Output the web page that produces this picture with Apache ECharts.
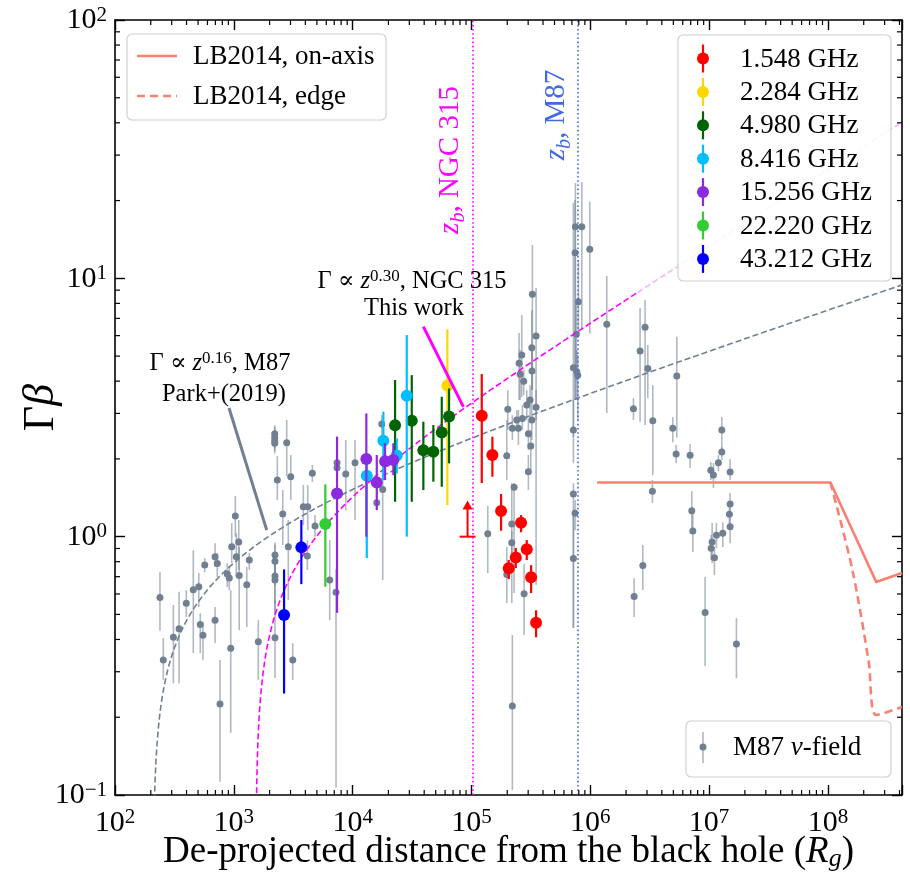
<!DOCTYPE html>
<html>
<head>
<meta charset="utf-8">
<script src="https://cdn.jsdelivr.net/npm/echarts@6/dist/echarts.min.js"></script>
<style>
html, body { margin: 0; padding: 0; background: #fff; }
#chart { width: 910px; height: 872px; }
</style>
</head>
<body>
<div id="chart"></div>
<script>
const FONT = '"Liberation Serif", "DejaVu Serif", serif';

// Axis extents (de-projected distance in R_g, Γβ)
const xRange = [1e2, 4.2e8];
const yRange = [0.1, 100];

// M87 velocity field: [distance, Γβ, lower, upper]
const m87Field = [
  [239, 0.582, 0.432, 0.731], [255, 0.333, 0.279, 0.405], [310, 0.408, 0.271, 0.544],
  [346, 0.440, 0.271, 0.612], [398, 0.553, 0.489, 0.621], [456, 0.623, 0.354, 0.887],
  [507, 0.640, 0.534, 0.723], [522, 0.457, 0.354, 0.506], [550, 0.415, 0.333, 0.465],
  [569, 0.776, 0.729, 0.826], [695, 0.475, 0.387, 0.534], [695, 0.836, 0.763, 0.944],
  [726, 0.788, 0.698, 0.864], [765, 0.225, 0.1125, 0.333], [881, 0.717, 0.638, 0.790],
  [916, 0.692, 0.621, 0.769], [942, 0.370, 0.174, 0.621], [960, 0.914, 0.790, 1.129],
  [1030, 1.202, 1.0, 1.436], [1050, 0.836, 0.698, 1.03], [1100, 0.953, 0.743, 1.160],
  [1110, 0.708, 0.435, 0.912], [1285, 0.651, 0.447, 0.763], [1350, 0.812, 0.743, 0.864],
  [1607, 0.392, 0.279, 0.475], [2210, 2.50, 2.30, 2.70], [2210, 2.42, 2.20, 2.65],
  [2210, 2.35, 2.15, 2.55], [2210, 2.30, 2.10, 2.50], [2220, 0.849, 0.70, 0.95],
  [2220, 0.804, 0.65, 0.93], [2220, 0.704, 0.55, 0.85], [2220, 0.679, 0.50, 0.82],
  [2220, 0.406, 0.284, 0.568], [2323, 1.656, 1.386, 2.05], [2582, 1.223, 0.928, 1.515],
  [2787, 2.31, 1.717, 2.83], [3013, 1.706, 1.386, 2.07], [2875, 0.914, 0.568, 1.160],
  [3133, 0.333, 0.279, 0.387], [3846, 1.306, 1.109, 1.584], [4188, 1.306, 1.06, 1.584],
  [4157, 0.841, 0.743, 0.97], [4580, 1.758, 1.627, 1.893], [4826, 1.099, 1.0, 1.212],
  [6412, 0.679, 0.475, 0.970], [7244, 0.609, 0.107, 0.75], [7390, 1.932, 1.75, 2.1],
  [7390, 1.848, 1.65, 2.0], [8750, 1.747, 1.267, 2.365], [10470, 1.932, 1.16, 2.365],
  [17580, 2.729, 2.365, 2.955], [17910, 1.524, 0.679, 1.98], [15960, 1.353, 1.267, 1.515],
  [137100, 1.026, 0.723, 1.314], [198200, 2.056, 1.656, 2.83], [202200, 3.11, 2.587, 3.695],
  [220800, 2.626, 2.365, 2.955], [248300, 2.626, 2.262, 3.09], [240500, 2.828, 2.587, 3.09],
  [251600, 4.69, 3.38, 6.14], [265000, 5.05, 3.47, 7.21], [256600, 4.25, 3.38, 5.28],
  [275400, 4.00, 3.53, 4.42], [268200, 2.87, 2.587, 3.23], [292000, 3.23, 2.83, 3.695],
  [301300, 2.50, 2.164, 2.83], [311300, 3.38, 2.83, 3.86], [315600, 2.243, 1.81, 2.587],
  [321900, 5.39, 3.38, 7.53], [323000, 4.38, 3.695, 5.28], [325600, 8.67, 3.695, 13.46],
  [321900, 2.828, 2.365, 3.38], [349800, 5.98, 2.83, 9.17], [349800, 3.17, 0.650, 3.695],
  [218400, 1.119, 0.553, 1.612], [218400, 0.947, 0.85, 1.05], [228400, 1.552, 0.605, 1.612],
  [198200, 0.714, 0.553, 0.912], [220800, 0.221, 0.1045, 0.416], [277300, 0.601, 0.416, 0.783],
  [301300, 1.784, 1.515, 2.07], [720700, 4.51, 2.43, 19.6], [720700, 2.587, 1.926, 3.38],
  [745000, 12.57, 3.38, 20.1], [749200, 15.84, 3.38, 23.4], [848400, 15.84, 6.31, 23.6],
  [763600, 6.07, 4.04, 8.24], [794000, 8.12, 6.31, 11.78], [769400, 4.35, 3.38, 5.28],
  [784600, 4.22, 2.83, 5.05], [990000, 12.95, 6.12, 19.8], [720700, 1.462, 0.443, 1.612],
  [745000, 1.231, 1.06, 1.386], [720700, 0.824, 0.443, 1.267], [1377000, 6.64, 3.01, 10.2],
  [2307000, 3.13, 2.83, 3.44], [2624000, 5.23, 2.786, 7.67], [2891000, 6.46, 2.704, 8.24],
  [3048000, 4.48, 3.44, 5.52], [3358000, 2.81, 1.732, 3.86], [3333000, 1.50, 1.349, 1.656],
  [4945000, 2.626, 2.32, 2.904], [5276000, 2.088, 1.926, 2.262], [5346000, 4.19, 2.42, 5.94],
  [6918000, 2.064, 1.844, 2.283], [7145000, 1.26, 1.06, 1.50], [7290000, 1.051, 0.872, 1.234],
  [10330000, 1.806, 1.656, 1.944], [10870000, 1.732, 1.542, 1.926], [11970000, 1.932, 1.794, 2.07],
  [12790000, 2.587, 2.126, 2.904], [12790000, 2.126, 1.98, 2.22], [15020000, 1.779, 1.656, 1.997],
  [15020000, 1.337, 1.234, 1.475], [14820000, 1.22, 1.109, 1.325], [15020000, 1.092, 0.944, 1.19],
  [13030000, 1.03, 0.912, 1.137], [11520000, 1.012, 0.904, 1.129], [10600000, 0.953, 0.790, 1.129],
  [10400000, 0.901, 0.812, 1.014], [11080000, 0.829, 0.710, 0.912], [9253000, 0.509, 0.316, 0.70],
  [16980000, 0.384, 0.283, 0.484], [2767000, 0.774, 0.621, 0.928], [2337000, 0.587, 0.489, 0.691]
];

// NGC 315 jet speeds per observing band: [distance, Γβ, lower, upper]
const ngc1548 = [
  [122100, 2.94, 1.612, 4.26], [150000, 2.07, 1.706, 2.436], [177500, 1.256, 1.054, 1.462],
  [261600, 1.132, 1.04, 1.212], [292000, 0.893, 0.812, 0.97], [236000, 0.831, 0.756, 0.904],
  [206000, 0.754, 0.685, 0.812], [317600, 0.696, 0.605, 0.776], [349800, 0.464, 0.408, 0.519]
];
const ngc1548Limit = [[92700, 1.0, 1.38]]; // [distance, lower limit, arrow tip]
const ngc2284 = [[62700, 3.84, 1.325, 6.35]];
const ngc4980 = [
  [22750, 2.70, 1.365, 4.04], [31440, 2.81, 1.365, 4.22], [39360, 2.16, 1.515, 2.786],
  [47780, 2.13, 1.632, 2.704], [56230, 2.53, 1.56, 3.48], [64770, 2.92, 1.922, 3.75]
];
const ngc8416 = [
  [13150, 1.72, 0.826, 2.07], [18130, 2.35, 1.656, 3.045], [23500, 2.06, 1.758, 2.40],
  [28530, 3.51, 1.0, 6.03]
];
const ngc15256 = [
  [7390, 1.47, 0.507, 2.44], [13040, 2.00, 1.0, 3.00], [15960, 1.62, 1.267, 2.07],
  [18740, 1.957, 1.656, 2.30], [22000, 1.98, 1.73, 2.30]
];
const ngc22220 = [[5890, 1.12, 0.640, 1.594]];
const ngc43212 = [[2647, 0.497, 0.247, 0.747], [3700, 0.909, 0.655, 1.16]];

const bandLabels = ['1.548 GHz', '2.284 GHz', '4.980 GHz', '8.416 GHz', '15.256 GHz', '22.220 GHz', '43.212 GHz'];
const bandColors = ['#ff0000', '#ffd700', '#006400', '#00bfff', '#8a2be2', '#32cd32', '#0000ff'];
const bandData = [ngc1548, ngc2284, ngc4980, ngc8416, ngc15256, ngc22220, ngc43212];

// Jet break locations
const zbNGC315 = 1.02e5;
const zbM87 = 7.85e5;

// Power-law acceleration fits, Γ = norm · z^index
const fitM87 = { norm: 0.437, index: 0.155 };
const fitNGC315 = { norm: 0.115, index: 0.295, solidUntil: 2.5e6 };

// LB2014 model tracks: [distance, Γβ]
const lbOnAxis = [[1.14e6, 1.62], [1.05e8, 1.62], [2.55e8, 0.667], [4.2e8, 0.723]];
const lbEdge = [[1.05e8, 1.62], [1.6e8, 0.75], [2.2e8, 0.33], [2.55e8, 0.204], [4.2e8, 0.219]];

// Annotation arrows: [from, to] in data space
const arrowM87 = [[911, 3.15], [1892, 1.06]];
const arrowNGC315 = [[39360, 6.50], [85500, 3.18]];

const slate = '#708090';
const slateBar = 'rgba(112,128,144,0.55)';
const magenta = '#ff00ff';
const royal = '#4169e1';
const salmon = '#fa8072';

function powerLawCurve(fit, zLo, zHi, n) {
  // Γβ = sqrt(Γ² − 1), sampled in log z with finer steps near the Γ = 1 end
  const pts = [];
  const a = Math.log10(zLo), b = Math.log10(zHi);
  for (let i = 1; i <= n; i++) {
    const t = i / n;
    const z = Math.pow(10, a + (b - a) * t * t);
    const g = fit.norm * Math.pow(z, fit.index);
    if (g > 1) pts.push([z, Math.sqrt(g * g - 1)]);
  }
  return pts;
}
function gammaOne(fit) { return Math.pow(1 / fit.norm, 1 / fit.index); }

const curveM87 = powerLawCurve(fitM87, gammaOne(fitM87), xRange[1], 400);
const curveNGC = powerLawCurve(fitNGC315, gammaOne(fitNGC315), fitNGC315.solidUntil, 400);
const curveNGCext = powerLawCurve(fitNGC315, fitNGC315.solidUntil, xRange[1], 60);
curveNGCext.unshift(curveNGC[curveNGC.length - 1]);

// Minor tick values (2..9 × 10^k)
const xMinor = [], yMinor = [];
for (let e = 2; e <= 8; e++) for (let m = 2; m <= 9; m++) { const v = m * Math.pow(10, e); if (v < xRange[1]) xMinor.push([v, 1]); }
for (let e = -1; e <= 1; e++) for (let m = 2; m <= 9; m++) yMinor.push([10, m * Math.pow(10, e)]);

function errorBars(name, rows, color, barColor, barWidth, r, z) {
  return {
    name, type: 'custom', coordinateSystem: 'cartesian2d', data: rows,
    encode: { x: 0, y: 1 }, clip: true, silent: true, z,
    renderItem(params, api) {
      const x = api.value(0);
      const c = api.coord([x, api.value(1)]);
      const lo = api.coord([x, api.value(2)]);
      const hi = api.coord([x, api.value(3)]);
      return { type: 'group', children: [
        { type: 'line', shape: { x1: lo[0], y1: lo[1], x2: hi[0], y2: hi[1] }, style: { stroke: barColor, lineWidth: barWidth } },
        { type: 'circle', shape: { cx: c[0], cy: c[1], r }, style: { fill: color } }
      ] };
    }
  };
}

// 10^k labels: base digits sit at the line bottom, the exponent at the line top
function tickLabel(v) {
  const e = Math.log10(v), k = Math.round(e);
  if (Math.abs(e - k) > 1e-6) return '';
  return '{b|10}{s|' + (k < 0 ? '\u2212' + (-k) : k) + '}';
}
const tickRich = {
  b: { fontFamily: FONT, fontSize: 30, lineHeight: 31, verticalAlign: 'bottom', color: '#000' },
  s: { fontFamily: FONT, fontSize: 21, lineHeight: 31, verticalAlign: 'top', color: '#000' }
};

const axisBase = {
  type: 'log', logBase: 10,
  axisLine: { show: true, onZero: false, lineStyle: { color: '#000', width: 1.6 } },
  axisTick: { show: true, inside: true, length: 10, lineStyle: { color: '#000', width: 1.4 } },
  splitLine: { show: false }, minorTick: { show: false }, minorSplitLine: { show: false }
};

const series = [];

series.push(errorBars('M87 v-field', m87Field, slate, slateBar, 1.6, 3.5, 2));

series.push({
  name: 'fitM87', type: 'line', data: curveM87, showSymbol: false, symbol: 'none', silent: true, z: 3,
  lineStyle: { color: slate, width: 1.6, type: [6, 3] }, animation: false,
  markLine: {
    silent: true, symbol: ['none', 'arrow'], symbolSize: [0, 16], label: { show: false },
    lineStyle: { color: slate, width: 3, type: 'solid' },
    data: [[{ coord: arrowM87[0] }, { coord: arrowM87[1] }]]
  }
});
series.push({
  name: 'fitNGC315', type: 'line', data: curveNGC, showSymbol: false, symbol: 'none', silent: true, z: 3,
  lineStyle: { color: magenta, width: 1.6, type: [6, 3] }, animation: false,
  markLine: {
    silent: true, symbol: ['none', 'arrow'], symbolSize: [0, 16], label: { show: false },
    lineStyle: { color: magenta, width: 3, type: 'solid' },
    data: [[{ coord: arrowNGC315[0] }, { coord: arrowNGC315[1] }]]
  }
});
series.push({
  name: 'fitNGC315ext', type: 'line', data: curveNGCext, showSymbol: false, symbol: 'none', silent: true, z: 3,
  lineStyle: { color: 'rgba(255,0,255,0.3)', width: 1.6, type: [6, 3] }, animation: false
});
series.push({
  name: 'breaks', type: 'line', data: [], silent: true, z: 3,
  markLine: {
    silent: true, symbol: ['none', 'none'], label: { show: false },
    data: [
      { xAxis: zbNGC315, lineStyle: { color: magenta, width: 1.6, type: [1.6, 2.6] } },
      { xAxis: zbM87, lineStyle: { color: royal, width: 1.6, type: [1.6, 2.6] } }
    ]
  }
});
series.push({
  name: 'LB2014, on-axis', type: 'line', data: lbOnAxis, showSymbol: false, symbol: 'none', silent: true, z: 3,
  lineStyle: { color: salmon, width: 2.6 }, animation: false
});
series.push({
  name: 'LB2014, edge', type: 'line', data: lbEdge, showSymbol: false, symbol: 'none', silent: true, z: 3,
  smooth: 0.3, lineStyle: { color: salmon, width: 2.6, type: [8, 5] }, animation: false
});

bandData.forEach((rows, i) => {
  series.push(errorBars(bandLabels[i], rows, bandColors[i], bandColors[i], 2.2, 6, 4));
});

// lower limit at 1.548 GHz
series.push({
  name: '1.548 GHz limit', type: 'custom', coordinateSystem: 'cartesian2d', data: ngc1548Limit,
  encode: { x: 0, y: 1 }, clip: true, silent: true, z: 4,
  renderItem(params, api) {
    const x = api.value(0);
    const b = api.coord([x, api.value(1)]);
    const t = api.coord([x, api.value(2)]);
    return { type: 'group', children: [
      { type: 'line', shape: { x1: b[0] - 8, y1: b[1], x2: b[0] + 8, y2: b[1] }, style: { stroke: '#ff0000', lineWidth: 2 } },
      { type: 'line', shape: { x1: b[0], y1: b[1], x2: t[0], y2: t[1] + 6 }, style: { stroke: '#ff0000', lineWidth: 2 } },
      { type: 'polygon', shape: { points: [[t[0], t[1]], [t[0] - 5, t[1] + 9], [t[0] + 5, t[1] + 9]] }, style: { fill: '#ff0000' } }
    ] };
  }
});

// minor ticks on all four sides
series.push({
  name: 'xMinor', type: 'custom', coordinateSystem: 'cartesian2d', data: xMinor, encode: { x: 0, y: 1 },
  clip: false, silent: true, z: 6,
  renderItem(params, api) {
    const v = api.value(0);
    const b = api.coord([v, yRange[0]]), t = api.coord([v, yRange[1]]);
    return { type: 'group', children: [
      { type: 'line', shape: { x1: b[0], y1: b[1], x2: b[0], y2: b[1] - 5 }, style: { stroke: '#000', lineWidth: 1.2 } },
      { type: 'line', shape: { x1: t[0], y1: t[1], x2: t[0], y2: t[1] + 5 }, style: { stroke: '#000', lineWidth: 1.2 } }
    ] };
  }
});
series.push({
  name: 'yMinor', type: 'custom', coordinateSystem: 'cartesian2d', data: yMinor, encode: { x: 0, y: 1 },
  clip: false, silent: true, z: 6,
  renderItem(params, api) {
    const v = api.value(1);
    const l = api.coord([xRange[0], v]), r = api.coord([xRange[1], v]);
    return { type: 'group', children: [
      { type: 'line', shape: { x1: l[0], y1: l[1], x2: l[0] + 5, y2: l[1] }, style: { stroke: '#000', lineWidth: 1.2 } },
      { type: 'line', shape: { x1: r[0], y1: r[1], x2: r[0] - 5, y2: r[1] }, style: { stroke: '#000', lineWidth: 1.2 } }
    ] };
  }
});

// option text styles use `color`; graphic text uses `fill`
const txt = (size, extra) => Object.assign({ fontFamily: FONT, fontSize: size, color: '#000' }, extra || {});
const gtxt = (size, c, extra) => Object.assign({ fontFamily: FONT, fontSize: size, fill: c }, extra || {});

const option = {
  animation: false,
  backgroundColor: '#fff',
  grid: { left: 115, right: 8, top: 20, bottom: 77, containLabel: false, outerBoundsMode: 'none' },
  xAxis: [
    Object.assign({}, axisBase, {
      min: xRange[0], max: xRange[1], position: 'bottom',
      axisLabel: { formatter: tickLabel, rich: tickRich, margin: 12, interval: 0, hideOverlap: false, showMinLabel: true, showMaxLabel: true },
      name: '{t|De-projected distance from the black hole (}{i|R}{g|g}{t|)}',
      nameLocation: 'middle', nameGap: 39, nameMoveOverlap: false,
      nameTextStyle: { rich: {
        t: txt(37, { lineHeight: 38, verticalAlign: 'top' }),
        i: txt(37, { lineHeight: 38, verticalAlign: 'top', fontStyle: 'italic' }),
        g: txt(26, { lineHeight: 38, verticalAlign: 'bottom', fontStyle: 'italic' })
      } }
    }),
    Object.assign({}, axisBase, { min: xRange[0], max: xRange[1], position: 'top', axisLabel: { show: false } })
  ],
  yAxis: [
    Object.assign({}, axisBase, {
      min: yRange[0], max: yRange[1], position: 'left',
      axisLabel: { formatter: tickLabel, rich: tickRich, margin: 8, interval: 0, hideOverlap: false, showMinLabel: true, showMaxLabel: true },
      name: '{g|Γ}{b|β}', nameLocation: 'middle', nameRotate: 90, nameGap: 50, nameMoveOverlap: false,
      nameTextStyle: { rich: {
        g: txt(44, { lineHeight: 48 }),
        b: txt(44, { lineHeight: 48, fontStyle: 'italic' })
      } }
    }),
    Object.assign({}, axisBase, { min: yRange[0], max: yRange[1], position: 'right', axisLabel: { show: false } })
  ],
  series
};

// Legends and annotation text
const legendFont = 27;
const legendRich = {
  n: gtxt(legendFont, '#000'),
  i: gtxt(legendFont, '#000', { fontStyle: 'italic' })
};
const textStyle = (extra) => Object.assign({ align: 'left', verticalAlign: 'middle', textAlign: 'left', textVerticalAlign: 'middle' }, extra);
const graphics = [];
// LB2014 legend
graphics.push({ type: 'rect', shape: { x: 127, y: 34, width: 259, height: 86, r: 5 }, style: { fill: 'rgba(255,255,255,0.85)', stroke: '#d0d0d0', lineWidth: 1.2 }, z: 100 });
graphics.push({ type: 'line', shape: { x1: 137, y1: 56, x2: 177, y2: 56 }, style: { stroke: salmon, lineWidth: 2.6 }, z: 101 });
graphics.push({ type: 'line', shape: { x1: 137, y1: 96, x2: 177, y2: 96 }, style: { stroke: salmon, lineWidth: 2.6, lineDash: [8, 5] }, z: 101 });
graphics.push({ type: 'text', x: 193, y: 57, style: textStyle({ text: 'LB2014, on-axis', fontFamily: FONT, fontSize: legendFont, fill: '#000' }), z: 101 });
graphics.push({ type: 'text', x: 193, y: 97, style: textStyle({ text: 'LB2014, edge', fontFamily: FONT, fontSize: legendFont, fill: '#000' }), z: 101 });

// Frequency legend
graphics.push({ type: 'rect', shape: { x: 678, y: 35, width: 213, height: 246, r: 5 }, style: { fill: 'rgba(255,255,255,0.85)', stroke: '#d0d0d0', lineWidth: 1.2 }, z: 100 });
bandLabels.forEach((label, i) => {
  const cy = 58.5 + i * 33.4;
  graphics.push({ type: 'line', shape: { x1: 703, y1: cy - 14, x2: 703, y2: cy + 14 }, style: { stroke: bandColors[i], lineWidth: 2.2 }, z: 101 });
  graphics.push({ type: 'circle', shape: { cx: 703, cy, r: 6 }, style: { fill: bandColors[i] }, z: 101 });
  graphics.push({ type: 'text', x: 740, y: cy + 1, style: textStyle({ text: label, fontFamily: FONT, fontSize: legendFont, fill: '#000' }), z: 101 });
});

// M87 legend
graphics.push({ type: 'rect', shape: { x: 686, y: 721, width: 205, height: 56, r: 5 }, style: { fill: 'rgba(255,255,255,0.85)', stroke: '#d0d0d0', lineWidth: 1.2 }, z: 100 });
graphics.push({ type: 'line', shape: { x1: 703, y1: 732, x2: 703, y2: 763 }, style: { stroke: slateBar, lineWidth: 1.6 }, z: 101 });
graphics.push({ type: 'circle', shape: { cx: 703, cy: 747, r: 3.5 }, style: { fill: slate }, z: 101 });
graphics.push({ type: 'text', x: 733, y: 748, style: textStyle({ text: '{n|M87 }{i|v}{n|-field}', rich: legendRich }), z: 101 });

// Fit annotations
const annSize = 24.5;
const annRich = (c) => ({
  n: gtxt(annSize, c, { lineHeight: 26, verticalAlign: 'bottom' }),
  i: gtxt(annSize, c, { lineHeight: 26, verticalAlign: 'bottom', fontStyle: 'italic' }),
  s: gtxt(17, c, { lineHeight: 26, verticalAlign: 'top' })
});
const centered = (extra) => Object.assign({ align: 'center', verticalAlign: 'middle', textAlign: 'center', textVerticalAlign: 'middle' }, extra);
graphics.push({ type: 'text', x: 412, y: 281, style: centered({ text: '{n|Γ ∝ }{i|z}{s|0.30}{n|, NGC 315}', rich: annRich('#000') }), z: 50 });
graphics.push({ type: 'text', x: 414, y: 309, style: centered({ text: 'This work', fontFamily: FONT, fontSize: annSize, fill: '#000' }), z: 50 });
graphics.push({ type: 'text', x: 220, y: 363, style: centered({ text: '{n|Γ ∝ }{i|z}{s|0.16}{n|, M87}', rich: annRich('#000') }), z: 50 });
graphics.push({ type: 'text', x: 224, y: 395, style: centered({ text: 'Park+(2019)', fontFamily: FONT, fontSize: annSize, fill: '#000' }), z: 50 });

// Break labels (rotated, reading upward)
const zbRich = (c) => ({
  i: gtxt(29, c, { fontStyle: 'italic', lineHeight: 33, verticalAlign: 'top' }),
  b: gtxt(20, c, { fontStyle: 'italic', lineHeight: 33, verticalAlign: 'bottom' }),
  n: gtxt(29, c, { lineHeight: 33, verticalAlign: 'top' })
});
graphics.push({ type: 'text', x: 452, y: 160, rotation: Math.PI / 2, style: centered({ text: '{i|z}{b|b}{n|, NGC 315}', rich: zbRich(magenta), fill: magenta }), z: 50 });
graphics.push({ type: 'text', x: 558, y: 115, rotation: Math.PI / 2, style: centered({ text: '{i|z}{b|b}{n|, M87}', rich: zbRich(royal), fill: royal }), z: 50 });

option.graphic = { elements: graphics };

const chart = echarts.init(document.getElementById('chart'), null, { renderer: 'canvas' });
chart.setOption(option);
</script>
</body>
</html>
